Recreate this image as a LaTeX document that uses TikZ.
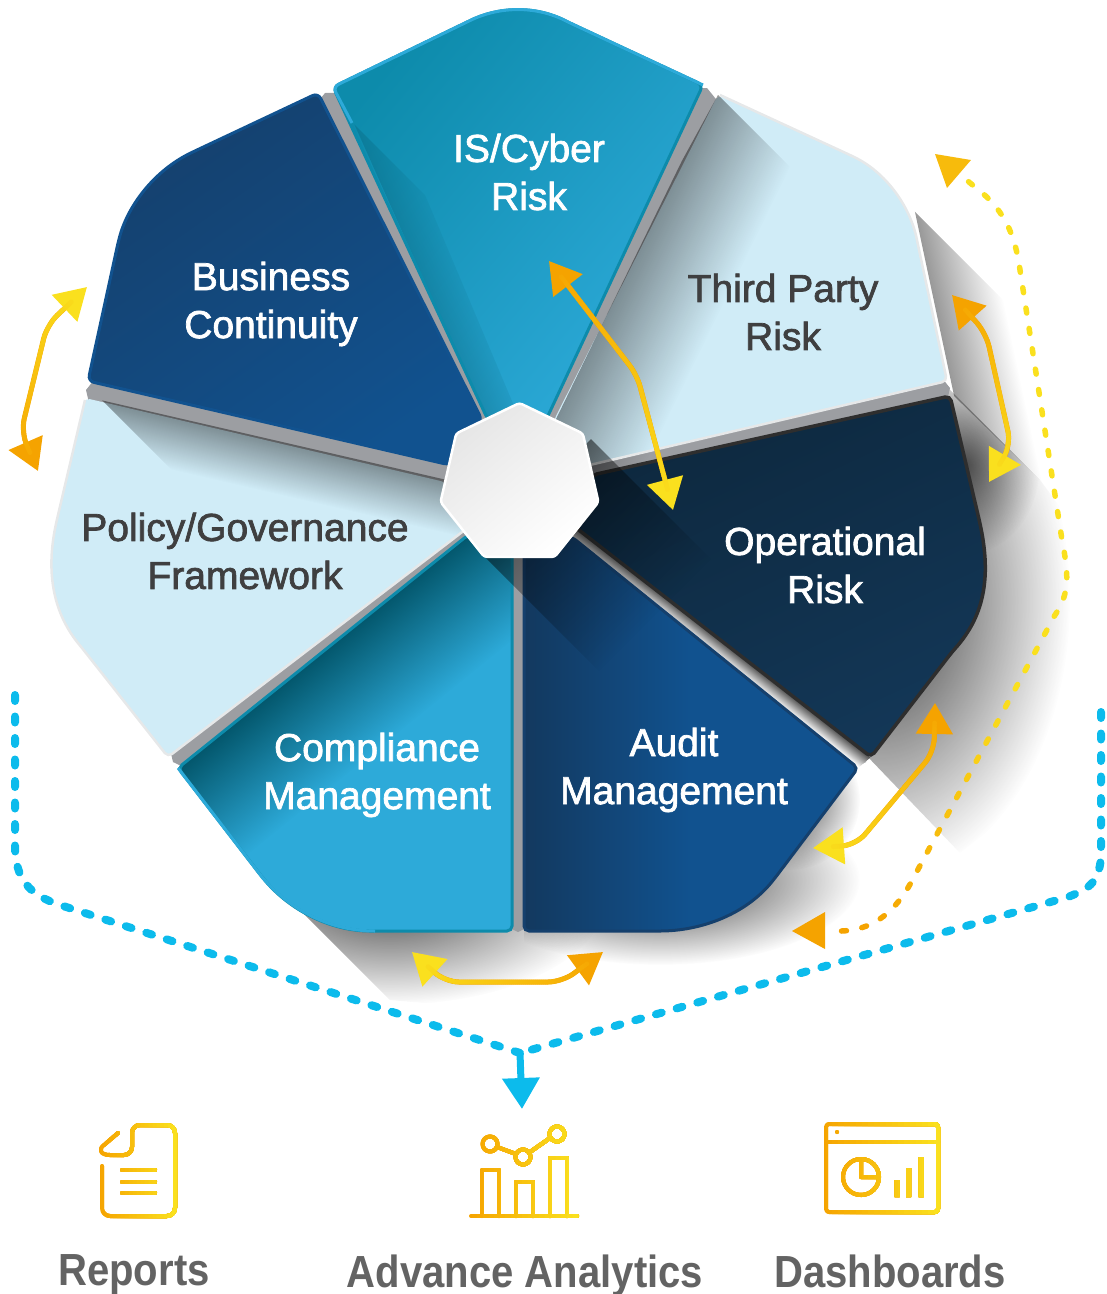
\documentclass[tikz,border=0pt]{standalone}
\usepackage{fontspec}
\usetikzlibrary{arrows.meta,shapes.geometric,fadings,decorations.markings}
\newfontfamily\petalfont{Liberation Sans}[FakeBold=1.8]
\newfontfamily\iconfont{Liberation Sans}[FakeStretch=0.89]
\definecolor{bandgray}{HTML}{9C9EA2}
\definecolor{pale}{HTML}{D0ECF7}
\definecolor{paleedge}{HTML}{E6E8E9}
\definecolor{sky}{HTML}{2DAAD9}
\definecolor{skydark}{HTML}{0D8BAB}
\definecolor{tealdark}{HTML}{03566B}
\definecolor{navy}{HTML}{11528F}
\definecolor{navydark}{HTML}{15406D}
\definecolor{ink}{HTML}{133757}
\definecolor{inkdark}{HTML}{0D283E}
\definecolor{orangeA}{HTML}{F5A300}
\definecolor{yellowA}{HTML}{FAE01E}
\definecolor{cyanA}{HTML}{0CBBEC}
\definecolor{textdark}{HTML}{3F3F40}
\definecolor{textgray}{HTML}{636363}
\pgfdeclarehorizontalshading{softramp}{100bp}{color(0bp)=(pgftransparent!0); color(25bp)=(pgftransparent!0); color(75bp)=(pgftransparent!100); color(100bp)=(pgftransparent!100)}
\pgfdeclarefading{softfade}{\pgfuseshading{softramp}}
\pgfdeclareradialshading{softblob}{\pgfpoint{0bp}{0bp}}{color(0bp)=(pgftransparent!0); color(25bp)=(pgftransparent!100); color(50bp)=(pgftransparent!100)}
\pgfdeclarefading{softdisc}{\pgfuseshading{softblob}}
\newcommand{\petalIS}{(333,87) -- (465,23) .. controls (500,6) and (536,6) .. (570,23) -- (703,85) -- (546,420) -- (488,420) -- cycle}
\newcommand{\petalThird}{(718,95) -- (850,155) .. controls (885,172) and (910,205) .. (918,245) -- (947,381) -- (560,472) -- (554,420) -- cycle}
\newcommand{\petalOper}{(950,396) -- (978,515) .. controls (992,575) and (985,615) .. (952,652) -- (871,757) -- (575,527) -- (592,475) -- cycle}
\newcommand{\petalAudit}{(524,540) -- (524,931) -- (655,931) .. controls (700,931) and (745,915) .. (775,878) -- (858,768) -- (572,537) -- cycle}
\newcommand{\petalComp}{(512,540) -- (512,931) -- (375,931) .. controls (330,931) and (290,910) .. (262,877) -- (178,768) -- (468,535) -- cycle}
\newcommand{\petalPolicy}{(85,398) -- (58,515) .. controls (44,575) and (55,615) .. (82,648) -- (168,757) -- (470,526) -- (445,482) -- cycle}
\newcommand{\petalBusiness}{(318,93) -- (197,150) .. controls (155,170) and (128,205) .. (118,243) -- (88,381) -- (450,465) -- (482,420) -- cycle}
\newcommand{\softshade}[6]{\begin{scope}\clip #3;\fill[#1,fill opacity=#2,path fading=softfade,transform canvas={rotate around={#5:(#4)}}] (#4) ++(0,-600) rectangle ++(#6,1200);\end{scope}}
\newcommand{\softblob}[5]{\begin{scope}\clip #2;\fill[black,fill opacity=#1,path fading=softdisc] (#3) ellipse (#4pt and #5pt);\end{scope}}
\newcommand{\gradicon}[3]{\foreach \k in {0,...,19}{\pgfmathsetmacro{\xk}{#1+(#2-#1)*\k/20}\pgfmathsetmacro{\mixk}{\k*5.25}\begin{scope}\clip (\xk,1100) rectangle (#2+10,1235);\begin{scope}[color=yellowA!\mixk!orangeA,fill=yellowA!\mixk!orangeA] #3 \end{scope}\end{scope}}}
\tikzset{
  petaltext/.style={font=\petalfont\fontsize{39}{48}\selectfont, align=center, inner sep=0pt},
  icontext/.style={font=\iconfont\bfseries\fontsize{45}{50}\selectfont, text=textgray, inner sep=0pt},
  gradstroke/.style 2 args={line width=5pt, postaction={decorate, decoration={markings, mark=between positions 20pt and -20pt step 2pt with {\pgfmathsetmacro{\mixv}{100*(\pgfkeysvalueof{/pgf/decoration/mark info/distance from start}/\pgfdecoratedpathlength)}\fill[#2!\mixv!#1] (0,0) circle (2.5pt);}}}},
  headA/.tip={Triangle[length=31pt, width=36pt, color=orangeA]},
  headB/.tip={Triangle[length=31pt, width=36pt, color=yellowA]},
  cyanline/.style={cyanA, line width=8pt, line cap=round, dash pattern=on 6pt off 15.5pt},
  iconline/.style={line width=4pt, line cap=round, line join=round}
}
\begin{document}
\begin{tikzpicture}[x=1pt,y=-1pt]
\useasboundingbox (0,0) rectangle (1107,1294);
\softshade{black}{.4}{(890,187) -- (1032,329) -- (1045,485) -- (950,392) -- (915,240) -- cycle}{922,245}{12}{68}
\softblob{.8}{(945,385) -- (1040,480) -- (1130,600) -- (1130,720) -- (960,853) -- (866,755) -- (900,500) -- cycle}{880,600}{190}{280}
\softblob{.6}{(945,385) -- (1040,480) -- (1040,620) -- (950,620) -- cycle}{965,465}{75}{90}
\softblob{.7}{(270,880) -- (390,1000) -- (620,1020) -- (620,930) -- (512,925) -- cycle}{390,900}{215}{105}
\softblob{.8}{(524,925) -- (775,878) -- (858,768) -- (900,900) -- (800,1000) -- (524,1000) -- cycle}{660,880}{200}{85}
\softblob{.7}{(858,768) -- (775,878) -- (800,900) -- (880,800) -- cycle}{790,800}{70}{70}
\coordinate (gap0) at (325,93);
\coordinate (gap1) at (707,88);
\coordinate (gap2) at (950,388);
\coordinate (gap3) at (866,762);
\coordinate (gap4) at (518,932);
\coordinate (gap5) at (173,762);
\coordinate (gap6) at (86,390);
\fill[bandgray] (gap0) -- (gap1) -- (gap2) -- (gap3) -- (gap4) -- (gap5) -- (gap6) -- cycle;
\fill[white] (575,527) -- (871,757) -- (858,768) -- (572,537) -- cycle;
\softshade{black}{.7}{(575,527) -- (871,757) -- (858,768) -- (572,537) -- cycle}{723,642}{-128}{15}
\fill[pale,rounded corners=5pt] \petalThird;
\softshade{black}{.4}{(718,95) -- (900,277) -- (900,500) -- (540,500) -- (540,420) -- cycle}{636,255}{-26}{100}
\draw[paleedge,line width=2.5pt,rounded corners=5pt] (720,95) -- (850,155) .. controls (885,172) and (910,205) .. (918,245) -- (947,381) -- (560,472);
\fill[pale,rounded corners=5pt] \petalPolicy;
\softshade{black}{.4}{(98,396) -- (200,498) -- (480,560) -- (480,470) -- cycle}{265,438}{-103}{52}
\draw[paleedge,line width=2.5pt,rounded corners=5pt] (85,400) -- (58,515) .. controls (44,575) and (55,615) .. (82,648) -- (168,757) -- (470,526);
\shade[top color=navydark,bottom color=navy,shading angle=35,rounded corners=6pt] \petalBusiness;
\draw[navy,line width=3pt,rounded corners=6pt] \petalBusiness;
\shade[top color=skydark,middle color=sky,bottom color=sky,shading angle=50,rounded corners=6pt] \petalIS;
\softshade{skydark!70!black}{.35}{(352,122) -- (425,195) -- (520,420) -- (488,420) -- cycle}{397,220}{24}{48}
\draw[skydark,line width=3pt,rounded corners=6pt] \petalIS;
\draw[sky,line width=3pt,rounded corners=6pt] (352,123) -- (333,87) -- (465,23) .. controls (500,6) and (536,6) .. (570,23) -- (703,85);
\shade[left color=navydark!70!inkdark,right color=navy,middle color=navy,rounded corners=5pt] \petalAudit;
\draw[navydark,line width=3pt,rounded corners=5pt] \petalAudit;
\fill[sky,rounded corners=5pt] \petalComp;
\softshade{tealdark}{1}{\petalComp}{322,650}{-51}{112}
\draw[skydark,line width=3pt,rounded corners=5pt] \petalComp;
\draw[sky,line width=3pt] (178,768) -- (262,877) .. controls (290,910) and (330,931) .. (375,931);
\shade[top color=inkdark,bottom color=ink,shading angle=25,rounded corners=5pt] \petalOper;
\draw[black!82,line width=3.5pt,rounded corners=5pt] \petalOper;
\softshade{black}{.5}{(585,433) -- (735,583) -- (635,707) -- (485,557) -- cycle}{535,495}{-45}{170}
\node[regular polygon, regular polygon sides=7, minimum size=162pt, inner sep=0pt, outer sep=0pt, draw=white, line width=2.5pt, rounded corners=3pt, top color=black!10, bottom color=white, shading angle=40] (hub) at (519.5,484) {};
\node[petaltext, text=white] (lab0) at (529,172) {IS/Cyber\\Risk};
\node[petaltext, text=textdark] (lab1) at (783,312) {Third Party\\Risk};
\node[petaltext, text=white] (lab2) at (825,565) {Operational\\Risk};
\node[petaltext, text=white] (lab3) at (674,770) {Audit\\Management};
\node[petaltext, text=white] (lab4) at (377,775) {Compliance\\Management};
\node[petaltext, text=textdark] (lab5) at (245,551) {Policy/Governance\\Framework};
\node[petaltext, text=white] (lab6) at (271,304) {Business\\Continuity};
\coordinate (arr0a) at (549,261);
\coordinate (arr0m) at (637,375);
\coordinate (arr0b) at (673,510);
\draw[headA-headB,orangeA,gradstroke={orangeA}{yellowA},rounded corners=12pt] (arr0a) -- (arr0m) -- (arr0b);
\coordinate (arr1a) at (952,295);
\coordinate (arr1m) at (986,333);
\coordinate (arr1n) at (1011,445);
\coordinate (arr1b) at (989,482);
\draw[headA-headB,orangeA,gradstroke={orangeA}{yellowA},rounded corners=14pt] (arr1a) -- (arr1m) -- (arr1n) -- (arr1b);
\coordinate (arr2a) at (935,703);
\coordinate (arr2m) at (934,752);
\coordinate (arr2n) at (856,845);
\coordinate (arr2b) at (813,848);
\draw[headA-headB,orangeA,gradstroke={orangeA}{yellowA},rounded corners=14pt] (arr2a) -- (arr2m) -- (arr2n) -- (arr2b);
\coordinate (arr3a) at (603,952);
\coordinate (arr3m) at (562,982);
\coordinate (arr3n) at (445,982);
\coordinate (arr3b) at (412,952);
\draw[headA-headB,orangeA,gradstroke={orangeA}{yellowA},rounded corners=14pt] (arr3a) -- (arr3m) -- (arr3n) -- (arr3b);
\coordinate (arr4a) at (38,471);
\coordinate (arr4m) at (21,432);
\coordinate (arr4n) at (47,325);
\coordinate (arr4b) at (87,287);
\draw[headA-headB,orangeA,gradstroke={orangeA}{yellowA},rounded corners=14pt] (arr4a) -- (arr4m) -- (arr4n) -- (arr4b);
\coordinate (dot0) at (935,154);
\coordinate (dot1) at (792,931);
\path[postaction={decorate, decoration={markings, mark=between positions 46pt and -42pt step 20.6pt with {\pgfmathsetmacro{\mixv}{max(0,min(100,100*(\pgfkeysvalueof{/pgf/decoration/mark info/distance from start}/\pgfdecoratedpathlength-.62)/.3))}\draw[orangeA!\mixv!yellowA,line width=5.5pt,line cap=round] (-2.5,0) -- (2.5,0);}}}] (dot0) -- (975,187) .. controls (1005,210) and (1015,235) .. (1020,270) -- (1062,540) .. controls (1070,580) and (1068,595) .. (1055,615) -- (915,875) .. controls (895,915) and (870,932) .. (835,931) -- (dot1);
\fill[orangeA!60!yellowA] (dot0) -- (971,160) -- (947,188) -- cycle;
\fill[orangeA] (dot1) -- (825,912) -- (825,949) -- cycle;
\coordinate (cy0) at (15,695);
\coordinate (cy1) at (1101,712);
\coordinate (cy2) at (520,1053);
\coordinate (cy3) at (522,1109);
\draw[cyanline] (cy0) -- (15,845) .. controls (15,880) and (30,895) .. (60,905) -- (cy2);
\draw[cyanline] (cy1) -- (1101,855) .. controls (1100,885) and (1085,890) .. (1068,897) -- (cy2);
\draw[-{Triangle[length=31pt,width=36pt]},cyanA,line width=7pt] (cy2) -- (cy3);
\gradicon{97}{176}{
\draw[iconline,rounded corners=8pt] (102,1166) -- (102,1216) -- (175,1216) -- (175,1125) -- (132,1125) -- (132,1155) -- (110,1155);
\draw[iconline] (110,1155) .. controls (100,1155) and (98,1149) .. (104,1145) -- (118,1133);
\draw[iconline] (122,1170) -- (155,1170) (122,1182) -- (155,1182) (122,1193) -- (155,1193);
}
\gradicon{466}{578}{
\draw[iconline] (471,1216) -- (577,1216);
\draw[iconline] (482,1216) -- (482,1170) -- (499,1170) -- (499,1216);
\draw[iconline] (516,1216) -- (516,1182) -- (533,1182) -- (533,1216);
\draw[iconline] (550,1216) -- (550,1158) -- (567,1158) -- (567,1216);
\draw[iconline] (490,1144) circle (7.5pt) (523,1157) circle (7.5pt) (557,1134) circle (7.5pt);
\draw[iconline] (497,1147) -- (516,1154) (530,1152) -- (550,1138);
}
\gradicon{820}{940}{
\draw[iconline,rounded corners=3pt] (826,1124) rectangle (938,1212);
\draw[iconline] (826,1142) -- (938,1142);
\fill (837,1132) circle (2pt);
\draw[iconline] (861,1159) arc (90:-270:18pt) -- (861,1177) -- (879,1177);
\fill (894.5,1180) rectangle (899.5,1197) (906,1168) rectangle (911,1197) (918.5,1157) rectangle (923.5,1197);
}
\node[icontext] (lab7) at (134,1275) {Reports};
\node[icontext] (lab8) at (525,1276) {Advance Analytics};
\node[icontext] (lab9) at (890,1271) {Dashboards};
\end{tikzpicture}
\end{document}
